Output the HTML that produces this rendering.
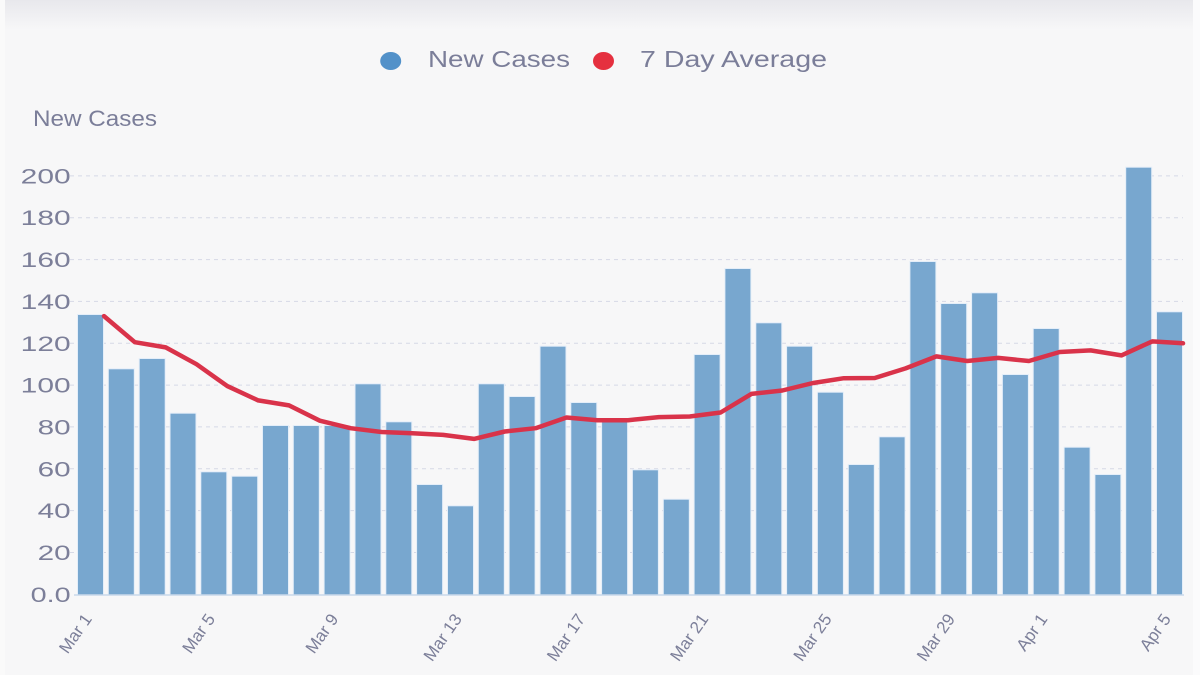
<!DOCTYPE html>
<html>
<head>
<meta charset="utf-8">
<style>
  html,body{margin:0;padding:0;}
  body{width:1200px;height:675px;overflow:hidden;background:#f7f7f8;font-family:"Liberation Sans",sans-serif;}
  svg{display:block;}
  .yl{font-size:21px;fill:#7c7f99;}
  .xl{font-size:17px;fill:#7c7f99;}
  .lg{font-size:23px;fill:#7b7e99;}
</style>
</head>
<body>
<svg width="1200" height="675" viewBox="0 0 1200 675" xmlns="http://www.w3.org/2000/svg">
  <defs>
    <linearGradient id="topg" x1="0" y1="0" x2="0" y2="1">
      <stop offset="0" stop-color="#e8e8ec"/>
      <stop offset="1" stop-color="#f7f7f8"/>
    </linearGradient>
  </defs>
  <rect x="0" y="0" width="1200" height="675" fill="#f7f7f8"/>
  <rect x="0" y="0" width="1200" height="30" fill="url(#topg)"/>
  <rect x="0" y="0" width="5" height="675" fill="#fafafa"/>
  <rect x="1193" y="0" width="7" height="675" fill="#fbfbfc"/>

  <!-- Legend -->
  <ellipse cx="390.7" cy="61" rx="10.5" ry="9" fill="#5291c9"/>
  <text class="lg" x="428" y="67" textLength="142" lengthAdjust="spacingAndGlyphs">New Cases</text>
  <ellipse cx="603.5" cy="61" rx="10.5" ry="9" fill="#e5303f"/>
  <text class="lg" x="640" y="67" textLength="187" lengthAdjust="spacingAndGlyphs">7 Day Average</text>

  <!-- Y title -->
  <text class="lg" x="33" y="126" style="font-size:22px" textLength="124" lengthAdjust="spacingAndGlyphs">New Cases</text>

  <!-- Gridlines -->
  <g stroke="#d6d9e6" stroke-width="1" stroke-dasharray="4,4">
    <line x1="70" y1="175.9" x2="1183" y2="175.9"/>
    <line x1="70" y1="217.7" x2="1183" y2="217.7"/>
    <line x1="70" y1="259.6" x2="1183" y2="259.6"/>
    <line x1="70" y1="301.4" x2="1183" y2="301.4"/>
    <line x1="70" y1="343.3" x2="1183" y2="343.3"/>
    <line x1="70" y1="385.1" x2="1183" y2="385.1"/>
    <line x1="70" y1="426.9" x2="1183" y2="426.9"/>
    <line x1="70" y1="468.8" x2="1183" y2="468.8"/>
    <line x1="70" y1="510.6" x2="1183" y2="510.6"/>
    <line x1="70" y1="552.5" x2="1183" y2="552.5"/>
  </g>

  <!-- Y labels -->
  <g class="yl" text-anchor="end">
    <text x="70.7" y="183.4" textLength="50" lengthAdjust="spacingAndGlyphs">200</text>
    <text x="70.7" y="225.2" textLength="50" lengthAdjust="spacingAndGlyphs">180</text>
    <text x="70.7" y="267.1" textLength="50" lengthAdjust="spacingAndGlyphs">160</text>
    <text x="70.7" y="308.9" textLength="50" lengthAdjust="spacingAndGlyphs">140</text>
    <text x="70.7" y="350.8" textLength="50" lengthAdjust="spacingAndGlyphs">120</text>
    <text x="70.7" y="392.6" textLength="50" lengthAdjust="spacingAndGlyphs">100</text>
    <text x="70.7" y="434.4" textLength="33" lengthAdjust="spacingAndGlyphs">80</text>
    <text x="70.7" y="476.3" textLength="33" lengthAdjust="spacingAndGlyphs">60</text>
    <text x="70.7" y="518.1" textLength="33" lengthAdjust="spacingAndGlyphs">40</text>
    <text x="70.7" y="560.0" textLength="33" lengthAdjust="spacingAndGlyphs">20</text>
    <text x="70.7" y="601.8" textLength="40" lengthAdjust="spacingAndGlyphs">0.0</text>
  </g>

  <!-- Bars -->
  <g fill="#e4eef9">
    <rect x="77" y="314" width="27" height="281"/>
    <rect x="107.8" y="368.3" width="27" height="226.7"/>
    <rect x="138.7" y="358" width="27" height="237"/>
    <rect x="169.5" y="412.7" width="27" height="182.3"/>
    <rect x="200.3" y="471.3" width="27" height="123.7"/>
    <rect x="231.2" y="475.7" width="27" height="119.3"/>
    <rect x="262" y="425" width="27" height="170"/>
    <rect x="292.8" y="425" width="27" height="170"/>
    <rect x="323.6" y="425" width="27" height="170"/>
    <rect x="354.5" y="383.3" width="27" height="211.7"/>
    <rect x="385.3" y="421.3" width="27" height="173.7"/>
    <rect x="416.1" y="484" width="27" height="111"/>
    <rect x="447" y="505.3" width="27" height="89.7"/>
    <rect x="477.8" y="383.3" width="27" height="211.7"/>
    <rect x="508.6" y="396" width="27" height="199"/>
    <rect x="539.5" y="345.7" width="27" height="249.3"/>
    <rect x="570.3" y="402" width="27" height="193"/>
    <rect x="601.1" y="420" width="27" height="175"/>
    <rect x="631.9" y="469.3" width="27" height="125.7"/>
    <rect x="662.8" y="498.7" width="27" height="96.3"/>
    <rect x="693.6" y="354" width="27" height="241"/>
    <rect x="724.4" y="268" width="27" height="327"/>
    <rect x="755.3" y="322.3" width="27" height="272.7"/>
    <rect x="786.1" y="345.7" width="27" height="249.3"/>
    <rect x="816.9" y="391.7" width="27" height="203.3"/>
    <rect x="847.8" y="464" width="27" height="131"/>
    <rect x="878.6" y="436.3" width="27" height="158.7"/>
    <rect x="909.4" y="261" width="27" height="334"/>
    <rect x="940.2" y="303" width="27" height="292"/>
    <rect x="971.1" y="292.3" width="27" height="302.7"/>
    <rect x="1001.9" y="374" width="27" height="221"/>
    <rect x="1032.7" y="328" width="27" height="267"/>
    <rect x="1063.6" y="446.7" width="27" height="148.3"/>
    <rect x="1094.4" y="474" width="27" height="121"/>
    <rect x="1125.2" y="166.7" width="27" height="428.3"/>
    <rect x="1156" y="311.3" width="27" height="283.7"/>
  </g>
  <g fill="#78a7cf">
    <rect x="78" y="315" width="25" height="279.5"/>
    <rect x="108.8" y="369.3" width="25" height="225.2"/>
    <rect x="139.7" y="359" width="25" height="235.5"/>
    <rect x="170.5" y="413.7" width="25" height="180.8"/>
    <rect x="201.3" y="472.3" width="25" height="122.2"/>
    <rect x="232.2" y="476.7" width="25" height="117.8"/>
    <rect x="263" y="426" width="25" height="168.5"/>
    <rect x="293.8" y="426" width="25" height="168.5"/>
    <rect x="324.6" y="426" width="25" height="168.5"/>
    <rect x="355.5" y="384.3" width="25" height="210.2"/>
    <rect x="386.3" y="422.3" width="25" height="172.2"/>
    <rect x="417.1" y="485" width="25" height="109.5"/>
    <rect x="448" y="506.3" width="25" height="88.2"/>
    <rect x="478.8" y="384.3" width="25" height="210.2"/>
    <rect x="509.6" y="397" width="25" height="197.5"/>
    <rect x="540.5" y="346.7" width="25" height="247.8"/>
    <rect x="571.3" y="403" width="25" height="191.5"/>
    <rect x="602.1" y="421" width="25" height="173.5"/>
    <rect x="632.9" y="470.3" width="25" height="124.2"/>
    <rect x="663.8" y="499.7" width="25" height="94.8"/>
    <rect x="694.6" y="355" width="25" height="239.5"/>
    <rect x="725.4" y="269" width="25" height="325.5"/>
    <rect x="756.3" y="323.3" width="25" height="271.2"/>
    <rect x="787.1" y="346.7" width="25" height="247.8"/>
    <rect x="817.9" y="392.7" width="25" height="201.8"/>
    <rect x="848.8" y="465" width="25" height="129.5"/>
    <rect x="879.6" y="437.3" width="25" height="157.2"/>
    <rect x="910.4" y="262" width="25" height="332.5"/>
    <rect x="941.2" y="304" width="25" height="290.5"/>
    <rect x="972.1" y="293.3" width="25" height="301.2"/>
    <rect x="1002.9" y="375" width="25" height="219.5"/>
    <rect x="1033.7" y="329" width="25" height="265.5"/>
    <rect x="1064.6" y="447.7" width="25" height="146.8"/>
    <rect x="1095.4" y="475" width="25" height="119.5"/>
    <rect x="1126.2" y="167.7" width="25" height="426.8"/>
    <rect x="1157" y="312.3" width="25" height="282.2"/>
  </g>
  <line x1="74" y1="595" x2="1184" y2="595" stroke="#c9d9ea" stroke-width="1.5"/>

  <!-- 7 day average line -->
  <polyline fill="none" stroke="#d9334a" stroke-width="4.5" stroke-linejoin="round" stroke-linecap="round"
    points="104,316.1 134.8,342.2 165.7,347.4 196.5,364.2 227.3,386.1 258.2,400.4 289,405.4 319.8,420.7 350.6,428.2 381.5,432.0 412.3,433.2 443.1,434.9 474,438.9 504.8,431.5 535.6,428.2 566.5,417.5 597.3,420.2 628.1,420.2 658.9,417.1 689.8,416.5 720.6,412.5 751.4,393.9 782.3,390.5 813.1,383.0 843.9,378.2 874.8,378.0 905.6,368.4 936.4,356.4 967.2,361.0 998.1,357.9 1028.9,361.0 1059.7,352.0 1090.6,350.4 1121.4,355.4 1152.2,341.4 1183,343.3"/>

  <!-- X labels -->
  <g class="xl" text-anchor="end">
    <text transform="translate(92.5,619) rotate(-55)">Mar 1</text>
    <text transform="translate(215.8,619) rotate(-55)">Mar 5</text>
    <text transform="translate(339.1,619) rotate(-55)">Mar 9</text>
    <text transform="translate(462.5,619) rotate(-55)">Mar 13</text>
    <text transform="translate(585.8,619) rotate(-55)">Mar 17</text>
    <text transform="translate(709.1,619) rotate(-55)">Mar 21</text>
    <text transform="translate(832.4,619) rotate(-55)">Mar 25</text>
    <text transform="translate(955.7,619) rotate(-55)">Mar 29</text>
    <text transform="translate(1048.2,619) rotate(-55)">Apr 1</text>
    <text transform="translate(1171.5,619) rotate(-55)">Apr 5</text>
  </g>
</svg>
</body>
</html>
